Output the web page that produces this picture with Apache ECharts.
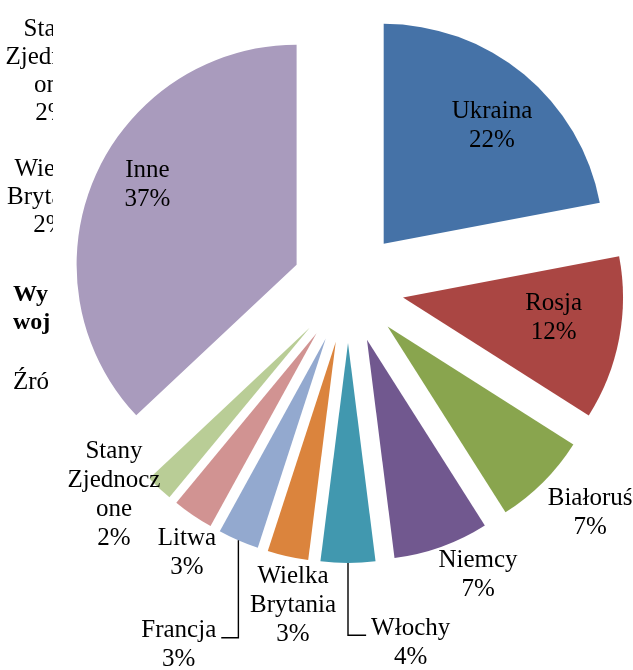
<!DOCTYPE html>
<html>
<head>
<meta charset="UTF-8">
<title>Import - kraje</title>
<script src="https://cdn.jsdelivr.net/npm/echarts@6/dist/echarts.min.js"></script>
<style>
	html, body { margin: 0; padding: 0; background: #fff; }
	#chart { width: 633px; height: 670px; }
</style>
</head>
<body>
<div id="chart"></div>
<script type="text/javascript">

	var countries = ['Ukraina', 'Rosja', 'Białoruś', 'Niemcy', 'Włochy', 'Wielka Brytania', 'Francja', 'Litwa', 'Stany Zjednoczone', 'Inne'];
	var shares = [22, 12, 7, 7, 4, 3, 3, 3, 2, 37];
	var colors = ['#4572A7', '#AA4643', '#89A54E', '#71588F', '#4198AF', '#DB843D', '#93A9CF', '#D19392', '#B9CD96', '#A99BBD'];

	// how Excel wrapped the long names
	var wrapped = { 'Wielka Brytania': 'Wielka\nBrytania', 'Stany Zjednoczone': 'Stany\nZjednocz\none' };
	// label placement: angle (deg, clockwise from 12 o'clock) and distance from pie centre
	var labelAngle = [41.8, 98.6, 133, 155.7, 170, 189.8, 205.3, 211.2, 228.4, 296.9];
	var labelDist = [216, 208, 331, 316, 361, 323, 396, 311, 313, 225];
	var withLeader = ['Włochy', 'Francja'];

	var cx = 348, cy = 287, R = 220, explode = 56;
	var FONT = '"Liberation Serif", "Times New Roman", serif';
	var FS = 25, LH = 29;

	function polar(angle, dist) {
		var a = angle * Math.PI / 180;
		return [cx + dist * Math.sin(a), cy - dist * Math.cos(a)];
	}

	function midAngle(i) {
		var total = 0, before = 0;
		for (var k = 0; k < shares.length; k++) {
			total += shares[k];
			if (k < i) before += shares[k];
		}
		return (before + shares[i] / 2) / total * 360;
	}

	var chart = echarts.init(document.getElementById('chart'));

	var option = {
		animation : false,
		backgroundColor : '#fff',
		graphic : [ {
			// page text behind the chart (cut off by the chart area)
			type : 'text', z : 0,
			style : { text : 'Stany\nZjednocz\none\n2%', x : 52, y : 71, align : 'center', verticalAlign : 'middle',
				font : FS + 'px ' + FONT, lineHeight : 28, fill : '#000' }
		}, {
			type : 'text', z : 0,
			style : { text : 'Wielka\nBrytania\n2%', x : 50, y : 197, align : 'center', verticalAlign : 'middle',
				font : FS + 'px ' + FONT, lineHeight : 28, fill : '#000' }
		}, {
			type : 'text', z : 0,
			style : { text : 'Wy\nwoj', x : 13, y : 309, align : 'left', verticalAlign : 'middle',
				font : 'bold 24px ' + FONT, lineHeight : 28, fill : '#000' }
		}, {
			type : 'text', z : 0,
			style : { text : 'Źró', x : 13, y : 382, align : 'left', verticalAlign : 'middle',
				font : FS + 'px ' + FONT, fill : '#000' }
		}, {
			// white chart area
			type : 'rect', z : 1,
			shape : { x : 53, y : 12, width : 580, height : 658 },
			style : { fill : '#fff' }
		} ],
		series : [ {
			// exploded slices
			type : 'pie',
			z : 2,
			center : [ cx, cy ],
			radius : R,
			startAngle : 90,
			clockwise : true,
			silent : true,
			selectedMode : 'multiple',
			selectedOffset : explode,
			itemStyle : { borderWidth : 0 },
			emphasis : { disabled : true },
			label : { show : false },
			labelLine : { show : false },
			data : countries.map(function(n, i) {
				return { name : n, value : shares[i], selected : true, itemStyle : { color : colors[i] } };
			})
		}, {
			// same pie, invisible, only carries the data labels
			type : 'pie',
			z : 3,
			center : [ cx, cy ],
			radius : R,
			startAngle : 90,
			clockwise : true,
			silent : true,
			avoidLabelOverlap : false,
			itemStyle : { color : 'rgba(0,0,0,0)', borderWidth : 0 },
			emphasis : { disabled : true },
			label : {
				show : true,
				position : 'outside',
				color : '#000',
				fontFamily : FONT,
				fontSize : FS,
				lineHeight : LH,
				align : 'center',
				formatter : function(p) {
					return (wrapped[p.name] || p.name) + '\n' + p.value + '%';
				}
			},
			labelLine : { show : false, lineStyle : { color : '#000', width : 1.4 } },
			labelLayout : function(p) {
				var i = p.dataIndex;
				var c = polar(labelAngle[i], labelDist[i]);
				var w = p.labelRect.width, h = p.labelRect.height;
				var out = { x : c[0], y : c[1], align : 'center', verticalAlign : 'middle' };
				if (withLeader.indexOf(countries[i]) >= 0) {
					var s = polar(midAngle(i), R + explode);
					var ly = c[1] - h / 2 + LH * 0.75;
					var ex = s[0] > c[0] ? c[0] + w / 2 + 5 : c[0] - w / 2 - 5;
					out.labelLinePoints = [ s, [ s[0], ly ], [ ex, ly ] ];
				}
				return out;
			},
			data : countries.map(function(n, i) {
				return { name : n, value : shares[i], labelLine : { show : withLeader.indexOf(n) >= 0 } };
			})
		} ]
	};

	chart.setOption(option);
</script>
</body>
</html>
